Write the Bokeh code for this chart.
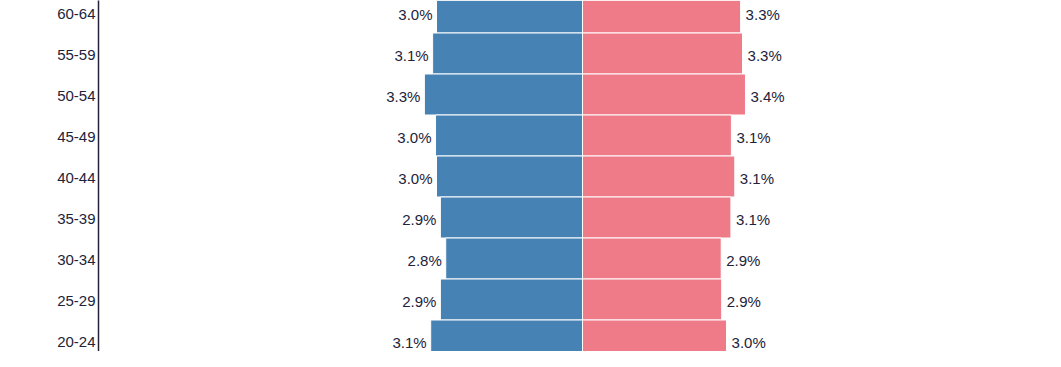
from bokeh.plotting import figure
from bokeh.models import FixedTicker, Range1d, ColumnDataSource
from bokeh.core.properties import value
from bokeh.embed import file_html
from bokeh.resources import INLINE

# Data (top row first as in the picture)
age_groups = ["60-64", "55-59", "50-54", "45-49", "40-44", "35-39", "30-34", "25-29", "20-24"]
male_pct = [3.01, 3.09, 3.26, 3.03, 3.01, 2.93, 2.82, 2.93, 3.13]
female_pct = [3.26, 3.30, 3.36, 3.07, 3.14, 3.06, 2.86, 2.87, 2.97]

n = len(age_groups)
ypos = [n - 1 - i for i in range(n)]  # bottom row = 0

src = ColumnDataSource(dict(
    y=ypos,
    male_left=[-v for v in male_pct],
    female=female_pct,
    male_lbl=[f"{v:.1f}%" for v in male_pct],
    female_lbl=[f"{v:.1f}%" for v in female_pct],
))

W, H = 1045, 351
p = figure(width=W, height=H, output_backend="svg", toolbar_location=None,
           x_range=Range1d(-9.979, 9.546), y_range=Range1d(-0.268, 8.2927),
           min_border_left=98, min_border_right=0, min_border_top=0, min_border_bottom=0)

BLUE = "#4682b4"
PINK = "#ef7a88"
TXT = "#22233a"

p.hbar(y="y", left="male_left", right=0, height=1.0, source=src,
       fill_color=BLUE, line_color="white", line_width=1)
p.hbar(y="y", left=0, right="female", height=1.0, source=src,
       fill_color=PINK, line_color="white", line_width=1)

p.text(x="male_left", y="y", text="male_lbl", source=src, x_offset=-4, y_offset=2,
       text_align="right", text_baseline="middle", text_font=value("Liberation Sans"),
       text_font_size="15px", text_color=TXT)
p.text(x="female", y="y", text="female_lbl", source=src, x_offset=5, y_offset=2,
       text_align="left", text_baseline="middle", text_font=value("Liberation Sans"),
       text_font_size="15px", text_color=TXT)

p.xaxis.visible = False
p.grid.visible = False
p.outline_line_color = None

# tick positions nudged slightly down so labels sit like the reference
tick_pos = [yv - 0.03 for yv in ypos]
ya = p.yaxis[0]
ya.ticker = FixedTicker(ticks=tick_pos)
ya.major_label_overrides = {t: lab for t, lab in zip(tick_pos, age_groups)}
ya.major_tick_out = 0
ya.major_tick_in = 0
ya.minor_tick_out = 0
ya.minor_tick_in = 0
ya.major_label_standoff = 3
ya.axis_line_color = TXT
ya.axis_line_width = 1.5
ya.major_label_text_font = "Liberation Sans"
ya.major_label_text_font_size = "15px"
ya.major_label_text_color = TXT

open("out.html", "w").write(file_html(p, INLINE))
